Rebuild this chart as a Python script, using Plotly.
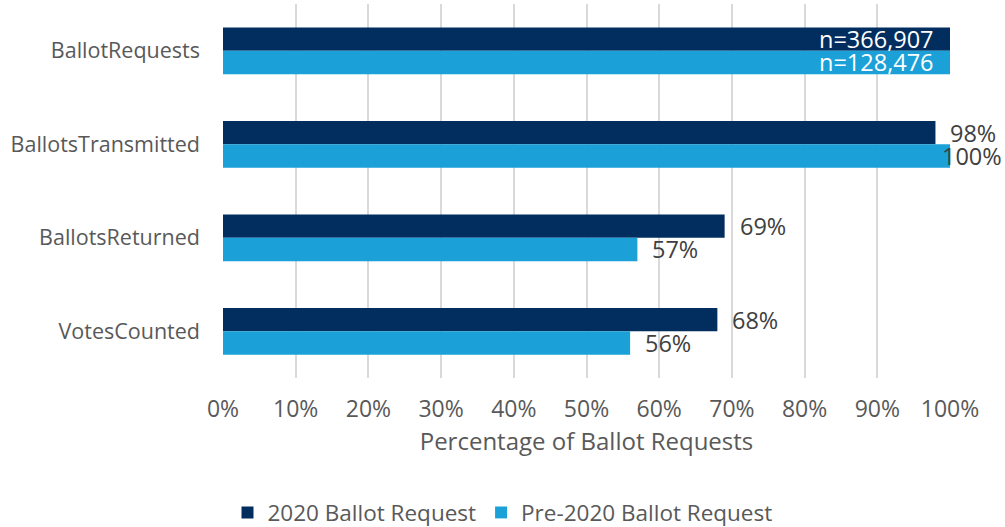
import plotly.graph_objects as go

categories = ["BallotRequests", "BallotsTransmitted", "BallotsReturned", "VotesCounted"]
series_2020 = [100, 98, 69, 68]
series_pre = [100, 100, 57, 56]
labels_2020 = ["n=366,907", "98%", "69%", "68%"]
labels_pre = ["n=128,476", "100%", "57%", "56%"]
inside_2020 = [True, False, False, False]
inside_pre = [True, False, False, False]
x_ticks = [0, 10, 20, 30, 40, 50, 60, 70, 80, 90, 100]
x_tick_text = ["0%", "10%", "20%", "30%", "40%", "50%", "60%", "70%", "80%", "90%", "100%"]

DARK = "#022e5f"
LIGHT = "#1ba1d8"
FONT = "Open Sans, Liberation Sans, sans-serif"
GRAY = "#595959"
LABEL = "#404040"

fig = go.Figure()
fig.add_trace(go.Bar(y=categories, x=series_2020, orientation="h",
                     name="2020 Ballot Request", marker_color=DARK,
                     marker_line_width=0))
fig.add_trace(go.Bar(y=categories, x=series_pre, orientation="h",
                     name="Pre-2020 Ballot Request", marker_color=LIGHT,
                     marker_line_width=0))

# value labels: one per bar, placed at the bar end
offset = 0.125
annotations = []
for values, texts, inside, shift in ((series_2020, labels_2020, inside_2020, -offset),
                                     (series_pre, labels_pre, inside_pre, offset)):
    for i, (v, t, ins) in enumerate(zip(values, texts, inside)):
        if ins:
            anchor, dx, color = "right", -14, "white"
        elif v >= 100:
            anchor, dx, color = "left", -10, LABEL
        else:
            anchor, dx, color = "left", 13, LABEL
        annotations.append(dict(x=v, y=i + shift, xref="x", yref="y", text=t,
                                showarrow=False, xanchor=anchor, xshift=dx,
                                yanchor="middle",
                                font=dict(family=FONT, size=23.5, color=color)))

fig.update_layout(
    width=1005, height=527,
    margin=dict(l=223, r=55, t=4, b=149),
    paper_bgcolor="white", plot_bgcolor="white",
    barmode="group", bargap=0.5, bargroupgap=0,
    font=dict(family=FONT, size=20, color=GRAY),
    annotations=annotations,
    showlegend=True,
    legend=dict(orientation="h", xref="container", x=0.5, xanchor="center",
                yref="container", y=0.027, yanchor="middle",
                font=dict(family=FONT, size=22.5, color=GRAY),
                itemwidth=30, traceorder="normal"),
)
fig.update_xaxes(range=[0, 100], tickvals=x_ticks, ticktext=x_tick_text,
                 showgrid=True, gridcolor="#d9d9d9", gridwidth=2,
                 zeroline=False, showline=False, ticks="",
                 ticklabelstandoff=15,
                 title=dict(text="Percentage of Ballot Requests", standoff=10,
                            font=dict(family=FONT, size=24, color=GRAY)),
                 tickfont=dict(family=FONT, size=23, color=GRAY))
fig.update_yaxes(autorange="reversed", showgrid=False, ticks="",
                 showline=False, ticklabelstandoff=22,
                 tickfont=dict(family=FONT, size=21.5, color=GRAY))

fig.write_html("out.html")
